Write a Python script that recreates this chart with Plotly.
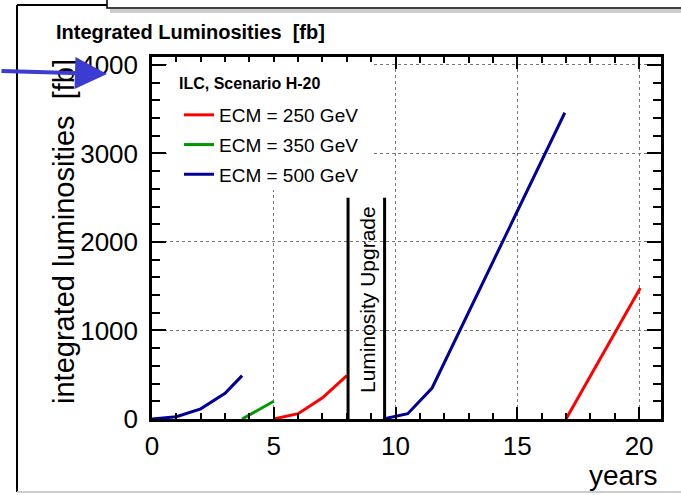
import plotly.graph_objects as go

# ---- data ----
years_250 = [5, 6, 7, 8, None, 17, 20.05]
lumi_250 = [0, 60, 240, 490, None, 0, 1480]
years_350 = [3.7, 5]
lumi_350 = [0, 200]
years_500 = [0, 1, 2, 3, 3.7, None, 9.5, 10.5, 11.5, 16.95]
lumi_500 = [0, 25, 115, 290, 490, None, 0, 60, 350, 3460]
series_names = ["ECM = 250 GeV", "ECM = 350 GeV", "ECM = 500 GeV"]
series_colors = ["#ff0000", "#009900", "#000099"]
legend_title = "ILC, Scenario H-20"
upgrade_start = 8.05
upgrade_end = 9.55
upgrade_top = 2500
x_ticks = [0, 5, 10, 15, 20]
y_ticks = [0, 1000, 2000, 3000, 4000]

W, H = 681, 495
L, R, T, B = 152, 661, 57, 419


def px(x):
    return (x - L) / (R - L)


def py(y):
    return (B - y) / (B - T)


FONT = "Liberation Sans, Arial, Helvetica, sans-serif"

fig = go.Figure()
for xs, ys, name, col in zip([years_250, years_350, years_500],
                             [lumi_250, lumi_350, lumi_500],
                             series_names, series_colors):
    fig.add_trace(go.Scatter(x=xs, y=ys, mode="lines", name=name,
                             line=dict(color=col, width=3),
                             legendgroup=name, connectgaps=False))

axis_common = dict(
    showline=True, linecolor="black", linewidth=2.5, mirror="ticks",
    ticks="inside", tickwidth=2, tickcolor="black",
    showgrid=True, gridcolor="#777777", griddash="dot", gridwidth=1,
    zeroline=False, tickfont=dict(family=FONT, size=26, color="black"),
)

fig.update_layout(
    width=W, height=H,
    margin=dict(l=L, r=W - R, t=T, b=H - B),
    paper_bgcolor="white", plot_bgcolor="white",
    showlegend=True,
    legend=dict(
        x=px(179), y=py(96), xanchor="left", yanchor="top",
        bgcolor="rgba(0,0,0,0)", borderwidth=0,
        font=dict(family=FONT, size=19, color="black"),
        traceorder="grouped", tracegroupgap=2,
    ),
    xaxis=dict(range=[0, 20.9], tickvals=x_ticks, ticklen=12,
               minor=dict(dtick=1, ticks="inside", ticklen=6, tickwidth=2,
                          tickcolor="black", showgrid=False),
               ticklabelstandoff=2,
               **axis_common),
    yaxis=dict(range=[0, 4090], tickvals=y_ticks, ticklen=14,
               minor=dict(dtick=200, ticks="inside", ticklen=8, tickwidth=2,
                          tickcolor="black", showgrid=False),
               ticklabelstandoff=6,
               **axis_common),
)

# white legend box hiding the grid
fig.add_shape(type="rect", xref="paper", yref="paper", layer="above",
              x0=px(168), x1=px(372), y0=py(190), y1=py(62),
              line=dict(width=0), fillcolor="white")
fig.add_annotation(x=px(177), y=py(83), xref="paper", yref="paper",
                   xanchor="left", yanchor="middle", text="<b>" + legend_title + "</b>",
                   showarrow=False, font=dict(family=FONT, size=16, color="black"))

# luminosity upgrade markers
for xv in [upgrade_start, upgrade_end]:
    fig.add_shape(type="line", xref="x", yref="y", x0=xv, x1=xv,
                  y0=0, y1=upgrade_top, line=dict(color="black", width=3))
fig.add_annotation(x=(upgrade_start + upgrade_end) / 2 + 0.05, y=upgrade_top * 0.54,
                   xref="x", yref="y", text="Luminosity Upgrade", textangle=-90,
                   showarrow=False, font=dict(family=FONT, size=21, color="black"))

# titles
fig.add_annotation(x=px(54), y=py(32), xref="paper", yref="paper", xanchor="left",
                   yanchor="middle", text="<b>Integrated Luminosities  [fb]</b>",
                   showarrow=False, font=dict(family=FONT, size=20, color="black"))
fig.add_annotation(x=px(64), y=py(232), xref="paper", yref="paper",
                   xanchor="center", yanchor="middle",
                   text="integrated luminosities  [fb]", textangle=-90,
                   showarrow=False, font=dict(family=FONT, size=29, color="black"))
fig.add_annotation(x=px(659), y=py(475), xref="paper", yref="paper", xanchor="right",
                   yanchor="middle", text="years", showarrow=False,
                   font=dict(family=FONT, size=28, color="black"))

# slide decorations
fig.add_shape(type="line", xref="paper", yref="paper", x0=px(17), x1=px(17),
              y0=py(5), y1=py(492), line=dict(color="black", width=2))
fig.add_shape(type="line", xref="paper", yref="paper", x0=px(17), x1=px(108),
              y0=py(5), y1=py(5), line=dict(color="black", width=2))
fig.add_shape(type="rect", xref="paper", yref="paper", x0=px(110), x1=px(684),
              y0=py(13), y1=py(9), line=dict(width=0), fillcolor="#cccccc")
fig.add_shape(type="rect", xref="paper", yref="paper", x0=px(107), x1=px(684),
              y0=py(8), y1=py(-5), line=dict(color="black", width=1.5),
              fillcolor="white")
fig.add_shape(type="line", xref="paper", yref="paper", x0=px(17), x1=px(681),
              y0=py(492), y1=py(492), line=dict(color="#cccccc", width=2))

# blue arrow
fig.add_annotation(x=px(107), y=py(74), xref="paper", yref="paper",
                   ax=-107, ay=-3, axref="pixel", ayref="pixel",
                   text="", showarrow=True, arrowhead=2, arrowsize=1.6,
                   arrowwidth=4, arrowcolor="#3c3cd2")

fig.write_html("out.html")
